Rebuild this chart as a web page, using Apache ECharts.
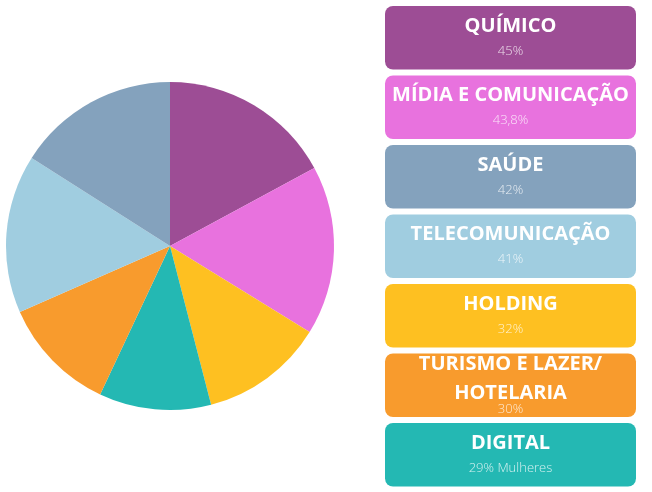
<!DOCTYPE html>
<html>
<head>
<meta charset="utf-8">
<script src="https://cdn.jsdelivr.net/npm/echarts@6/dist/echarts.min.js"></script>
<style>
html,body{margin:0;padding:0;background:#fff;}
#c{width:652px;height:492px;}
</style>
</head>
<body>
<div id="c"></div>
<script>
// Pie order (clockwise from 12 o'clock)
var pieNames = ['QUÍMICO','MÍDIA E COMUNICAÇÃO','HOLDING','DIGITAL','TURISMO E LAZER/ HOTELARIA','TELECOMUNICAÇÃO','SAÚDE'];
var pieValues = [45, 43.8, 32, 29, 30, 41, 42];
var pieColors = ['#9d4d95','#e872de','#fec021','#24b8b3','#f89b2d','#a0cde0','#84a2bd'];

// Legend box order (top to bottom)
var boxTitles = ['QUÍMICO','MÍDIA E COMUNICAÇÃO','SAÚDE','TELECOMUNICAÇÃO','HOLDING','TURISMO E LAZER/\nHOTELARIA','DIGITAL'];
var boxLabels = ['45%','43,8%','42%','41%','32%','30%','29% Mulheres'];
var boxColors = ['#9d4d95','#e872de','#84a2bd','#a0cde0','#fec021','#f89b2d','#24b8b3'];

var chart = echarts.init(document.getElementById('c'), null, {renderer:'canvas'});

var graphics = [];
var boxX = 385, boxW = 251, boxH = 63.5, boxTop = 6, step = 69.5;
boxTitles.forEach(function(t, i){
  var y = boxTop + i*step;
  var twoLine = t.indexOf('\n') >= 0;
  graphics.push({
    type:'rect', left:boxX, top:y,
    shape:{width:boxW, height:boxH, r:8},
    style:{fill:boxColors[i]}
  });
  graphics.push({
    type:'text', x:boxX+boxW/2, y: twoLine ? y+25 : y+20,
    style:{text:t, fill:'#fff', font:'bold 20px "Open Sans"', align:'center', verticalAlign:'middle', lineHeight:29}
  });
  graphics.push({
    type:'text', x:boxX+boxW/2, y: twoLine ? y+55.5 : y+45,
    style:{text:boxLabels[i], fill:'rgba(255,255,255,0.8)', font:'300 13px "Open Sans"', align:'center', verticalAlign:'middle'}
  });
});

chart.setOption({
  animation:false,
  series:[{
    type:'pie',
    center:[170,246],
    radius:[0,164],
    startAngle:90,
    clockwise:true,
    label:{show:false},
    labelLine:{show:false},
    emphasis:{disabled:true},
    itemStyle:{borderWidth:0},
    data: pieNames.map(function(n,i){return {name:n, value:pieValues[i], itemStyle:{color:pieColors[i]}};})
  }],
  graphic: graphics
});
</script>
</body>
</html>
